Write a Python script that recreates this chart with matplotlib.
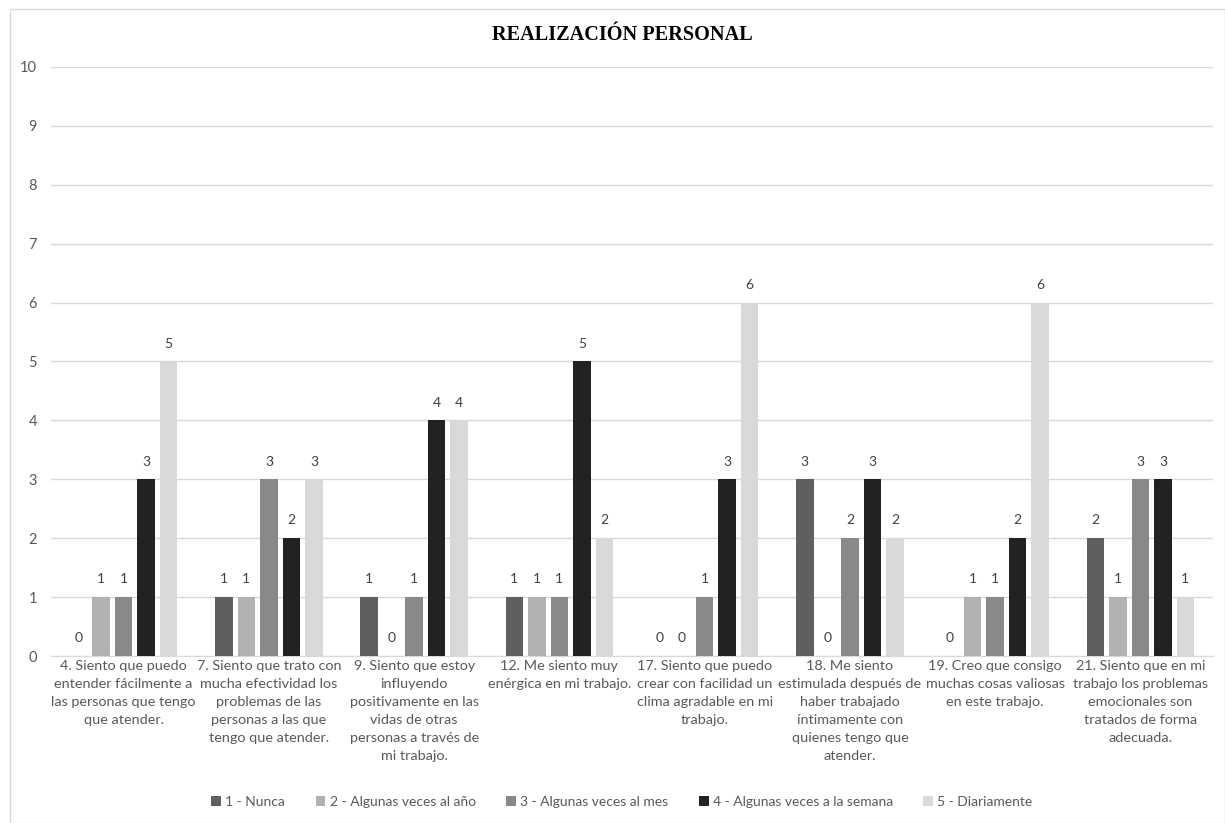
import numpy as np
import matplotlib.pyplot as plt
from matplotlib.patches import Rectangle

# preguntas (etiquetas ya partidas en líneas)
preguntas = [
    "4. Siento que puedo\nentender fácilmente a\nlas personas que tengo\nque atender.",
    "7. Siento que trato con\nmucha efectividad los\nproblemas de las\npersonas a las que\ntengo que atender.",
    "9. Siento que estoy\ninfluyendo\npositivamente en las\nvidas de otras\npersonas a través de\nmi trabajo.",
    "12. Me siento muy\nenérgica en mi trabajo.",
    "17. Siento que puedo\ncrear con facilidad un\nclima agradable en mi\ntrabajo.",
    "18. Me siento\nestimulada después de\nhaber trabajado\níntimamente con\nquienes tengo que\natender.",
    "19. Creo que consigo\nmuchas cosas valiosas\nen este trabajo.",
    "21. Siento que en mi\ntrabajo los problemas\nemocionales son\ntratados de forma\nadecuada.",
]

respuestas = ["1 - Nunca", "2 - Algunas veces al año", "3 - Algunas veces al mes",
              "4 - Algunas veces a la semana", "5 - Diariamente"]

nunca = [0, 1, 1, 1, 0, 3, 0, 2]
veces_anio = [1, 1, 0, 1, 0, 0, 1, 1]
veces_mes = [1, 3, 1, 1, 1, 2, 1, 3]
veces_semana = [3, 2, 4, 5, 3, 3, 2, 3]
diariamente = [5, 3, 4, 2, 6, 2, 6, 1]

colores = ["#5f5f5f", "#b2b2b2", "#898989", "#222222", "#d9d9d9"]

series = [nunca, veces_anio, veces_mes, veces_semana, diariamente]

fig = plt.figure(figsize=(12.25, 8.23), dpi=100)
fig.patches.append(Rectangle((10 / 1225, 0), 1 - 10 / 1225, 1 - 9 / 823,
                             transform=fig.transFigure, fill=False,
                             edgecolor="#d9d9d9", linewidth=1))

ax = fig.add_axes([51 / 1225, 1 - 656 / 823, (1213 - 51) / 1225, (656 - 67) / 823])

x = np.arange(len(preguntas))
paso = 0.155
ancho = 0.12
for i, (vals, col, lab) in enumerate(zip(series, colores, respuestas)):
    pos = x + (i - 2) * paso
    bars = ax.bar(pos, vals, width=ancho, color=col, label=lab, zorder=3)
    for b, v in zip(bars, vals):
        ax.text(b.get_x() + b.get_width() / 2, v + 0.2, str(v),
                ha="center", va="bottom", fontsize=10, color="#404040",
                family="Lato")

ax.set_xlim(-0.5, len(preguntas) - 0.5)
ax.set_ylim(0, 10)
ax.set_yticks(range(0, 11))
ax.grid(axis="y", color="#d9d9d9", linewidth=1, zorder=0)
for s in ["top", "right", "left"]:
    ax.spines[s].set_visible(False)
ax.spines["bottom"].set_color("#d9d9d9")
ax.tick_params(axis="both", length=0, colors="#595959")
ax.tick_params(axis="y", pad=10, labelsize=10.5)
for t in ax.get_yticklabels():
    t.set_family("Lato")

ax.set_xticks(x)
ax.set_xticklabels(preguntas, fontsize=10.4, family="Lato", color="#595959", va="top")
for t in ax.get_xticklabels():
    t.set_linespacing(1.6)
ax.tick_params(axis="x", pad=3)

fig.text(622 / 1225, 1 - 35 / 823, "REALIZACIÓN PERSONAL", ha="center", va="center",
         fontsize=14.6, fontweight="bold", family="Liberation Serif", color="black")

fig.legend(loc="center", bbox_to_anchor=(622 / 1225, 1 - 802 / 823), ncol=5,
           frameon=False, handlelength=0.7, handleheight=0.7,
           handletextpad=0.3, columnspacing=2.2, prop={"family": "Lato", "size": 10},
           labelcolor="#595959")

plt.savefig("out.png", dpi=100)
